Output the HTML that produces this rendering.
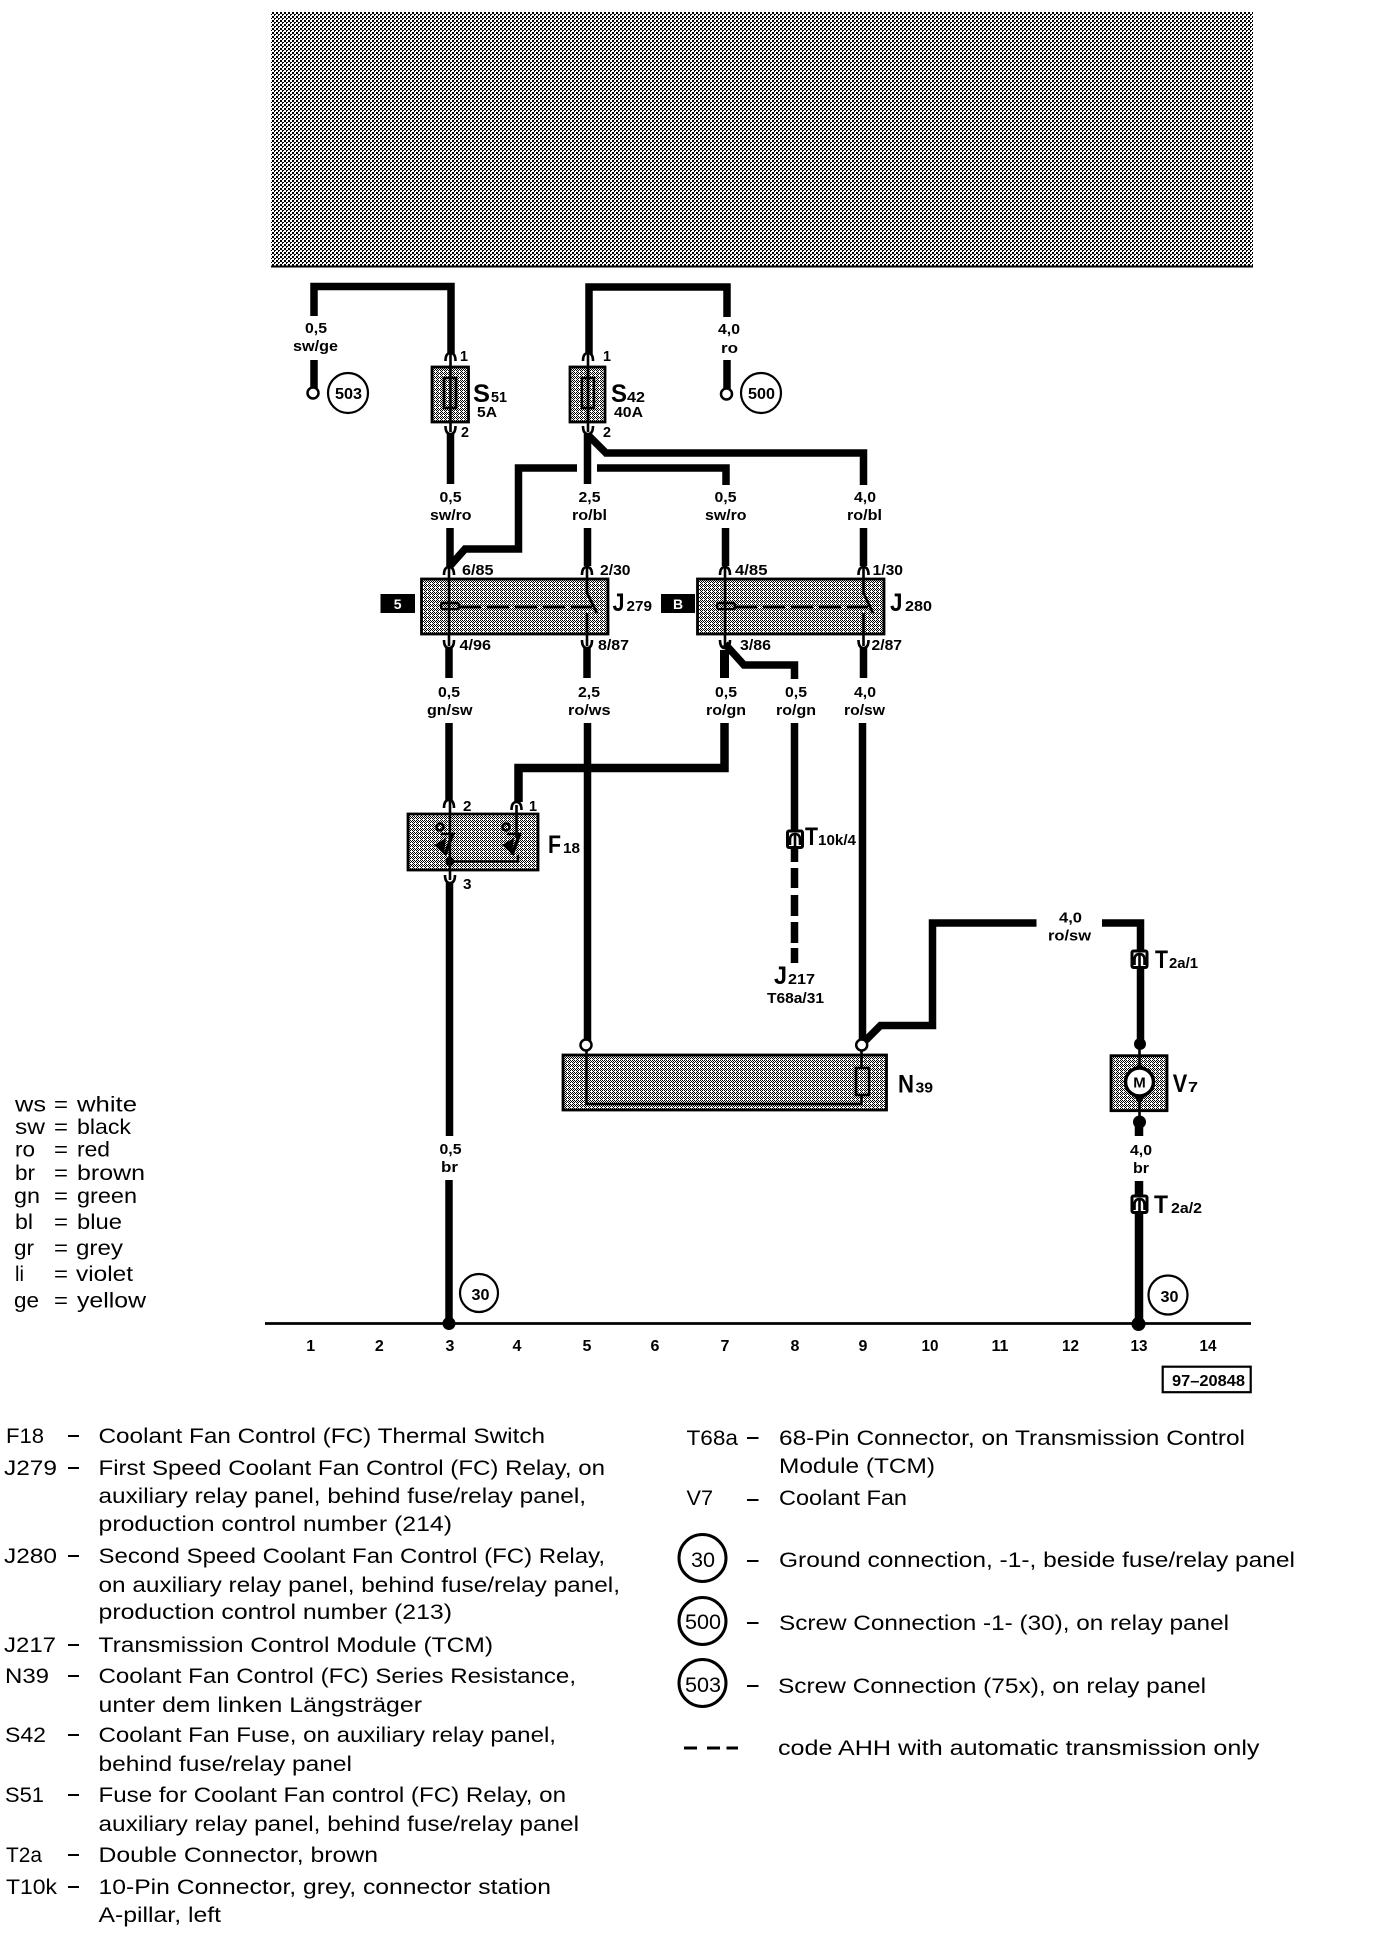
<!DOCTYPE html>
<html><head><meta charset="utf-8"><title>Coolant Fan Wiring Diagram</title>
<style>
html,body{margin:0;padding:0;background:#fff}
svg{display:block}
text{font-family:"Liberation Sans",sans-serif;fill:#000}
.b{font-weight:700;font-size:14.5px}
.p{font-weight:700;font-size:14.5px}
.c{font-weight:700;font-size:16px}
.big{font-weight:700;font-size:25px}
.sub{font-weight:700;font-size:15px}
.n{font-size:21.5px}
.w{fill:none;stroke:#000;stroke-width:7.5;stroke-linejoin:miter}
.t{fill:none;stroke:#000;stroke-width:2.6}
.box{fill:url(#ht2);stroke:#000;stroke-width:2.8}
.ring{fill:#fff;stroke:#000;stroke-width:2.2}
.hole{fill:#fff;stroke:#000;stroke-width:2.5}
</style></head><body>
<svg width="1376" height="1936" viewBox="0 0 1376 1936" xmlns="http://www.w3.org/2000/svg">
<defs>
<pattern id="ht" width="4" height="4" patternUnits="userSpaceOnUse">
<rect width="4" height="4" fill="#fff"/>
<path d="M0 0h2v2H0zM2 2h2v1H2zM2 3h1v1H2z" fill="#000" shape-rendering="crispEdges"/>
</pattern>
<pattern id="ht2" width="4" height="4" patternUnits="userSpaceOnUse">
<rect width="4" height="4" fill="#fff"/>
<path d="M0 0h1v1H0zM2 0h1v1H2zM1 1h1v1H1zM3 1h1v1H3zM0 2h1v1H0zM2 2h1v1H2zM1 3h1v1H1z" fill="#000" shape-rendering="crispEdges"/>
</pattern>
<g id="pu"><path d="M-5 5Q-5 -3 0 -3Q5 -3 5 5" class="t"/></g>
<g id="pd"><path d="M-5 -5Q-5 3 0 3Q5 3 5 -5" class="t"/></g>
<g id="con"><rect x="-7.500" y="-8" width="15" height="16.500" rx="1.500" fill="#fff" stroke="#000" stroke-width="3"/><path d="M-5 6V1Q-5 -5 0 -5Q5 -5 5 1V6" class="t"/><path d="M0 -6V8" stroke="#000" stroke-width="2.600"/></g>
</defs>
<rect width="1376" height="1936" fill="#fff"/>

<!-- top band -->
<rect x="271" y="12" width="982" height="254" fill="url(#ht)"/>
<path d="M271 266.500H1253" stroke="#000" stroke-width="2"/>

<!-- wires upper -->
<path class="w" d="M314 316V286.500H451V354"/>
<path class="w" d="M314 360V389"/>
<path class="w" d="M589 354V287H727V317"/>
<path class="w" d="M727 360V389"/>
<circle class="hole" cx="313" cy="393" r="5.500"/>
<circle class="hole" cx="726.500" cy="394" r="5.500"/>
<circle class="ring" cx="348" cy="393" r="20"/>
<circle class="ring" cx="761" cy="393" r="20"/>
<text class="c" x="335" y="399" textLength="27" lengthAdjust="spacingAndGlyphs">503</text>
<text class="c" x="748" y="399" textLength="27" lengthAdjust="spacingAndGlyphs">500</text>

<text class="b" x="305" y="333" textLength="22" lengthAdjust="spacingAndGlyphs">0,5</text>
<text class="b" x="293" y="351" textLength="45" lengthAdjust="spacingAndGlyphs">sw/ge</text>
<text class="b" x="718" y="334" textLength="22" lengthAdjust="spacingAndGlyphs">4,0</text>
<text class="b" x="721" y="353" textLength="17" lengthAdjust="spacingAndGlyphs">ro</text>

<!-- fuses -->
<rect class="box" x="432" y="367" width="36.500" height="55"/>
<rect class="t" x="444" y="378" width="12" height="30"/>
<path class="t" d="M450.500 354V432"/>
<use href="#pu" x="450.500" y="356"/>
<use href="#pd" x="450.500" y="431"/>
<text class="p" x="460" y="361" textLength="8" lengthAdjust="spacingAndGlyphs">1</text>
<text class="p" x="461" y="437" textLength="8" lengthAdjust="spacingAndGlyphs">2</text>
<text class="big" x="473" y="402" textLength="17" lengthAdjust="spacingAndGlyphs">S</text>
<text class="sub" x="491" y="402" textLength="16" lengthAdjust="spacingAndGlyphs">51</text>
<text class="b" x="477" y="417" textLength="20" lengthAdjust="spacingAndGlyphs">5A</text>

<rect class="box" x="570" y="367" width="35" height="55"/>
<rect class="t" x="582" y="378" width="12" height="30"/>
<path class="t" d="M588 354V432"/>
<use href="#pu" x="588" y="356"/>
<use href="#pd" x="588" y="431"/>
<text class="p" x="603" y="361" textLength="8" lengthAdjust="spacingAndGlyphs">1</text>
<text class="p" x="603" y="437" textLength="8" lengthAdjust="spacingAndGlyphs">2</text>
<text class="big" x="611" y="402" textLength="16" lengthAdjust="spacingAndGlyphs">S</text>
<text class="sub" x="627" y="402" textLength="18" lengthAdjust="spacingAndGlyphs">42</text>
<text class="b" x="614" y="417" textLength="29" lengthAdjust="spacingAndGlyphs">40A</text>

<!-- wires below fuses -->
<path class="w" d="M450.500 434V484"/>
<path class="w" d="M587.500 434V484"/>
<path class="w" d="M588 435L606 453H863.500V485"/>
<path class="w" d="M577 468H518.500V549H465L449 567"/>
<path class="w" d="M597 468H726V485"/>
<path class="w" d="M450 528V567"/>
<path class="w" d="M587.500 528V566"/>
<path class="w" d="M725.500 528V566"/>
<path class="w" d="M863.500 528V566"/>

<text class="b" x="439.500" y="502" textLength="22" lengthAdjust="spacingAndGlyphs">0,5</text>
<text class="b" x="430" y="520" textLength="41.500" lengthAdjust="spacingAndGlyphs">sw/ro</text>
<text class="b" x="578.500" y="502" textLength="22" lengthAdjust="spacingAndGlyphs">2,5</text>
<text class="b" x="572" y="520" textLength="35" lengthAdjust="spacingAndGlyphs">ro/bl</text>
<text class="b" x="714.500" y="502" textLength="22" lengthAdjust="spacingAndGlyphs">0,5</text>
<text class="b" x="705" y="520" textLength="41.500" lengthAdjust="spacingAndGlyphs">sw/ro</text>
<text class="b" x="854" y="502" textLength="22" lengthAdjust="spacingAndGlyphs">4,0</text>
<text class="b" x="847" y="520" textLength="35" lengthAdjust="spacingAndGlyphs">ro/bl</text>

<!-- J279 -->
<rect class="box" x="421.500" y="579" width="186.500" height="55"/>
<path class="t" d="M449 568V646M587 568V594M587 613V646"/>
<use href="#pu" x="449" y="570"/><use href="#pu" x="587" y="570"/>
<use href="#pd" x="449" y="645"/><use href="#pd" x="587" y="645"/>
<rect x="441" y="603" width="18" height="6" rx="2" fill="none" stroke="#000" stroke-width="2.500"/>
<path d="M459 607H592" stroke="#000" stroke-width="2.800" stroke-dasharray="22 6" fill="none"/>
<path class="t" d="M587 593L597 613"/>
<rect x="380.500" y="594" width="34.500" height="19"/>
<text x="397.700" y="609" text-anchor="middle" font-size="14" font-weight="700" style="fill:#fff">5</text>
<text class="p" x="462" y="575" textLength="31.500" lengthAdjust="spacingAndGlyphs">6/85</text>
<text class="p" x="600" y="575" textLength="30.500" lengthAdjust="spacingAndGlyphs">2/30</text>
<text class="p" x="459.500" y="650" textLength="31.500" lengthAdjust="spacingAndGlyphs">4/96</text>
<text class="p" x="598" y="650" textLength="31" lengthAdjust="spacingAndGlyphs">8/87</text>
<text class="big" x="612.500" y="611" textLength="12" lengthAdjust="spacingAndGlyphs">J</text>
<text class="sub" x="626.500" y="611" textLength="25.500" lengthAdjust="spacingAndGlyphs">279</text>

<!-- J280 -->
<rect class="box" x="697.500" y="579" width="186.500" height="55"/>
<path class="t" d="M725 568V646M863.500 568V594M863.500 613V646"/>
<use href="#pu" x="725" y="570"/><use href="#pu" x="863.500" y="570"/>
<use href="#pd" x="725" y="645"/><use href="#pd" x="863.500" y="645"/>
<rect x="717" y="603" width="18" height="6" rx="2" fill="none" stroke="#000" stroke-width="2.500"/>
<path d="M735 607H868" stroke="#000" stroke-width="2.800" stroke-dasharray="22 6" fill="none"/>
<path class="t" d="M863.500 593L873 613"/>
<rect x="661" y="594" width="34" height="19"/>
<text x="678" y="609" text-anchor="middle" font-size="14" font-weight="700" style="fill:#fff">B</text>
<text class="p" x="735" y="575" textLength="32.500" lengthAdjust="spacingAndGlyphs">4/85</text>
<text class="p" x="872.500" y="575" textLength="30.500" lengthAdjust="spacingAndGlyphs">1/30</text>
<text class="p" x="740" y="650" textLength="31" lengthAdjust="spacingAndGlyphs">3/86</text>
<text class="p" x="871.500" y="650" textLength="30.500" lengthAdjust="spacingAndGlyphs">2/87</text>
<text class="big" x="890" y="611" textLength="12.500" lengthAdjust="spacingAndGlyphs">J</text>
<text class="sub" x="905" y="611" textLength="27" lengthAdjust="spacingAndGlyphs">280</text>

<!-- below relays -->
<path class="w" d="M449 648V678"/>
<path class="w" d="M587 648V678"/>
<path class="w" style="stroke-width:9" d="M724.500 650V678"/>
<path class="w" d="M725 644L744 665H794.500V679"/>
<path class="w" d="M863.500 648V678"/>
<text class="b" x="438" y="697" textLength="22" lengthAdjust="spacingAndGlyphs">0,5</text>
<text class="b" x="427" y="715" textLength="45.500" lengthAdjust="spacingAndGlyphs">gn/sw</text>
<text class="b" x="578" y="697" textLength="22" lengthAdjust="spacingAndGlyphs">2,5</text>
<text class="b" x="568" y="715" textLength="42.500" lengthAdjust="spacingAndGlyphs">ro/ws</text>
<text class="b" x="715" y="697" textLength="22" lengthAdjust="spacingAndGlyphs">0,5</text>
<text class="b" x="706" y="715" textLength="40" lengthAdjust="spacingAndGlyphs">ro/gn</text>
<text class="b" x="785" y="697" textLength="22" lengthAdjust="spacingAndGlyphs">0,5</text>
<text class="b" x="776" y="715" textLength="40" lengthAdjust="spacingAndGlyphs">ro/gn</text>
<text class="b" x="854" y="697" textLength="22" lengthAdjust="spacingAndGlyphs">4,0</text>
<text class="b" x="844" y="715" textLength="41" lengthAdjust="spacingAndGlyphs">ro/sw</text>

<path class="w" d="M449 723V801"/>
<path class="w" style="stroke-width:8.500" d="M724.500 723V768H518.500V802"/>
<path class="w" d="M587.500 723V1041"/>
<path class="w" d="M794.500 723V862"/>
<path class="w" d="M862.500 723V1041"/>
<path class="w" d="M865 1041L880.500 1025.500H932.500V923H1036.500"/>
<path class="w" d="M1102 923H1140.500V1044"/>

<!-- F18 -->
<rect class="box" x="408" y="814" width="130" height="56"/>
<path class="t" d="M450 800V880M516.500 805V838M450 861.500H518V855"/>
<use href="#pu" x="449" y="803"/><use href="#pu" x="516.500" y="805"/>
<path d="M453 833L445 855M520 833L512 855" stroke="#000" stroke-width="3.500" fill="none"/>
<path d="M446 838L434 845L444 854ZM514 838L502 845L512 854Z" fill="#000"/>
<path d="M441 834H455M507 834H521" stroke="#000" stroke-width="2.500"/>
<circle class="t" cx="440" cy="827" r="3.500"/><circle class="t" cx="506" cy="827" r="3.500"/>
<circle cx="450" cy="861.500" r="4.500" fill="#000"/>
<text class="p" x="463" y="811" textLength="8.500" lengthAdjust="spacingAndGlyphs">2</text>
<text class="p" x="529" y="811" textLength="8" lengthAdjust="spacingAndGlyphs">1</text>
<text class="p" x="463" y="889" textLength="8.500" lengthAdjust="spacingAndGlyphs">3</text>
<text class="big" x="548" y="853" textLength="13" lengthAdjust="spacingAndGlyphs">F</text>
<text class="sub" x="563" y="853" textLength="17" lengthAdjust="spacingAndGlyphs">18</text>
<use href="#pd" x="450" y="880"/>
<path class="w" d="M449.500 883V1136"/>
<text class="b" x="439.500" y="1154" textLength="22" lengthAdjust="spacingAndGlyphs">0,5</text>
<text class="b" x="441" y="1172" textLength="17" lengthAdjust="spacingAndGlyphs">br</text>
<path class="w" d="M449 1180V1323"/>
<circle cx="449" cy="1323.500" r="6.500" fill="#000"/>

<!-- T10k, J217 -->
<use href="#con" x="795" y="839"/>
<text class="big" x="805" y="845" textLength="13" lengthAdjust="spacingAndGlyphs">T</text>
<text class="sub" x="818" y="845" textLength="38" lengthAdjust="spacingAndGlyphs">10k/4</text>
<path d="M794.500 868V888M794.500 895V916M794.500 922V943M794.500 948V963" stroke="#000" stroke-width="7.500"/>
<text class="big" x="774" y="984" textLength="13" lengthAdjust="spacingAndGlyphs">J</text>
<text class="sub" x="788" y="984" textLength="27" lengthAdjust="spacingAndGlyphs">217</text>
<text class="b" x="767" y="1003" textLength="57" lengthAdjust="spacingAndGlyphs">T68a/31</text>

<!-- N39 -->
<rect class="box" x="563" y="1055" width="323.500" height="55"/>
<path class="t" d="M586.500 1050V1104H861.500V1095M861.500 1068V1050"/>
<rect x="856" y="1068" width="13" height="27" fill="none" stroke="#000" stroke-width="2.500"/>
<circle class="hole" cx="586" cy="1045" r="5.500"/>
<circle class="hole" cx="861.700" cy="1045" r="5.500"/>
<text class="big" x="898" y="1092.500" textLength="16" lengthAdjust="spacingAndGlyphs">N</text>
<text class="sub" x="915.500" y="1092.500" textLength="17.500" lengthAdjust="spacingAndGlyphs">39</text>

<!-- right branch -->
<text class="b" x="1059" y="922.700" textLength="23" lengthAdjust="spacingAndGlyphs">4,0</text>
<text class="b" x="1048" y="940.700" textLength="43" lengthAdjust="spacingAndGlyphs">ro/sw</text>
<use href="#con" x="1139.500" y="959"/>
<text class="big" x="1155" y="968" textLength="13" lengthAdjust="spacingAndGlyphs">T</text>
<text class="sub" x="1169" y="968" textLength="29" lengthAdjust="spacingAndGlyphs">2a/1</text>

<!-- V7 -->
<rect class="box" x="1111" y="1055.700" width="56" height="55"/>
<path d="M1139.500 1044V1122" stroke="#000" stroke-width="2.600"/>
<circle cx="1140" cy="1044" r="6" fill="#000"/>
<path d="M1139.500 1062L1147 1072H1132ZM1139.500 1104L1147 1094H1132Z" fill="#000"/>
<circle cx="1139.500" cy="1082" r="14" fill="#fff" stroke="#000" stroke-width="3.500"/>
<text x="1139.500" y="1087.500" text-anchor="middle" font-size="15" font-weight="700">M</text>
<text class="big" x="1172.700" y="1092" textLength="14.500" lengthAdjust="spacingAndGlyphs">V</text>
<text class="sub" x="1188" y="1092" textLength="10" lengthAdjust="spacingAndGlyphs">7</text>
<circle cx="1139.500" cy="1122" r="6.500" fill="#000"/>
<path class="w" style="stroke-width:8.500" d="M1139 1124V1136"/>
<text class="b" x="1130" y="1155" textLength="22" lengthAdjust="spacingAndGlyphs">4,0</text>
<text class="b" x="1133" y="1173" textLength="16" lengthAdjust="spacingAndGlyphs">br</text>
<path class="w" style="stroke-width:8.500" d="M1139 1181V1323"/>
<use href="#con" x="1139.500" y="1204"/>
<text class="big" x="1154" y="1213" textLength="14" lengthAdjust="spacingAndGlyphs">T</text>
<text class="sub" x="1171" y="1213" textLength="31" lengthAdjust="spacingAndGlyphs">2a/2</text>

<!-- ground bus -->
<path d="M265 1323.500H1251" stroke="#000" stroke-width="2.800"/>
<circle cx="1138.500" cy="1324" r="7" fill="#000"/>
<circle class="ring" cx="479" cy="1293" r="19"/>
<circle class="ring" cx="1168" cy="1295" r="19.500"/>
<text class="c" x="471.500" y="1300" textLength="18" lengthAdjust="spacingAndGlyphs">30</text>
<text class="c" x="1160.500" y="1302" textLength="18" lengthAdjust="spacingAndGlyphs">30</text>
<text class="c" x="310.700" y="1351" text-anchor="middle">1</text>
<text class="c" x="379.300" y="1351" text-anchor="middle">2</text>
<text class="c" x="450" y="1351" text-anchor="middle">3</text>
<text class="c" x="517" y="1351" text-anchor="middle">4</text>
<text class="c" x="587" y="1351" text-anchor="middle">5</text>
<text class="c" x="655" y="1351" text-anchor="middle">6</text>
<text class="c" x="725" y="1351" text-anchor="middle">7</text>
<text class="c" x="795" y="1351" text-anchor="middle">8</text>
<text class="c" x="863" y="1351" text-anchor="middle">9</text>
<text class="c" x="921.500" y="1351" textLength="17" lengthAdjust="spacingAndGlyphs">10</text>
<text class="c" x="991.500" y="1351" textLength="17" lengthAdjust="spacingAndGlyphs">11</text>
<text class="c" x="1062" y="1351" textLength="17" lengthAdjust="spacingAndGlyphs">12</text>
<text class="c" x="1130.500" y="1351" textLength="17" lengthAdjust="spacingAndGlyphs">13</text>
<text class="c" x="1199.500" y="1351" textLength="17" lengthAdjust="spacingAndGlyphs">14</text>
<rect x="1162.700" y="1366.700" width="88" height="25.500" fill="#fff" stroke="#000" stroke-width="2.200"/>
<text class="c" x="1172" y="1386" textLength="73" lengthAdjust="spacingAndGlyphs">97–20848</text>

<!-- colour key -->
<text class="n" x="15" y="1111.500" textLength="31" lengthAdjust="spacingAndGlyphs">ws</text><text class="n" x="54" y="1111.500" textLength="14" lengthAdjust="spacingAndGlyphs">=</text><text class="n" x="77" y="1111.500" textLength="60" lengthAdjust="spacingAndGlyphs">white</text>
<text class="n" x="15" y="1134" textLength="30" lengthAdjust="spacingAndGlyphs">sw</text><text class="n" x="54" y="1134" textLength="14" lengthAdjust="spacingAndGlyphs">=</text><text class="n" x="77" y="1134" textLength="54" lengthAdjust="spacingAndGlyphs">black</text>
<text class="n" x="15" y="1156.500" textLength="20" lengthAdjust="spacingAndGlyphs">ro</text><text class="n" x="54" y="1156.500" textLength="14" lengthAdjust="spacingAndGlyphs">=</text><text class="n" x="77" y="1156.500" textLength="33" lengthAdjust="spacingAndGlyphs">red</text>
<text class="n" x="15" y="1180" textLength="20" lengthAdjust="spacingAndGlyphs">br</text><text class="n" x="54" y="1180" textLength="14" lengthAdjust="spacingAndGlyphs">=</text><text class="n" x="77" y="1180" textLength="68" lengthAdjust="spacingAndGlyphs">brown</text>
<text class="n" x="14" y="1203" textLength="26" lengthAdjust="spacingAndGlyphs">gn</text><text class="n" x="54" y="1203" textLength="14" lengthAdjust="spacingAndGlyphs">=</text><text class="n" x="77" y="1203" textLength="60" lengthAdjust="spacingAndGlyphs">green</text>
<text class="n" x="15" y="1229" textLength="18" lengthAdjust="spacingAndGlyphs">bl</text><text class="n" x="54" y="1229" textLength="14" lengthAdjust="spacingAndGlyphs">=</text><text class="n" x="77" y="1229" textLength="45" lengthAdjust="spacingAndGlyphs">blue</text>
<text class="n" x="14" y="1255" textLength="20" lengthAdjust="spacingAndGlyphs">gr</text><text class="n" x="54" y="1255" textLength="14" lengthAdjust="spacingAndGlyphs">=</text><text class="n" x="76" y="1255" textLength="47" lengthAdjust="spacingAndGlyphs">grey</text>
<text class="n" x="15" y="1281" textLength="9" lengthAdjust="spacingAndGlyphs">li</text><text class="n" x="54" y="1281" textLength="14" lengthAdjust="spacingAndGlyphs">=</text><text class="n" x="76" y="1281" textLength="57" lengthAdjust="spacingAndGlyphs">violet</text>
<text class="n" x="14" y="1307.500" textLength="25" lengthAdjust="spacingAndGlyphs">ge</text><text class="n" x="54" y="1307.500" textLength="14" lengthAdjust="spacingAndGlyphs">=</text><text class="n" x="77" y="1307.500" textLength="69" lengthAdjust="spacingAndGlyphs">yellow</text>

<!-- left legend -->
<g stroke="#000" stroke-width="2">
<path d="M68 1436H79M68 1468H79M68 1556H79M68 1645H79M68 1676H79M68 1735H79M68 1795H79M68 1855H79M68 1887H79"/>
</g>
<text class="n" x="6" y="1443" textLength="38" lengthAdjust="spacingAndGlyphs">F18</text>
<text class="n" x="98.500" y="1443" textLength="446.500" lengthAdjust="spacingAndGlyphs">Coolant Fan Control (FC) Thermal Switch</text>
<text class="n" x="4" y="1475" textLength="53" lengthAdjust="spacingAndGlyphs">J279</text>
<text class="n" x="98.500" y="1475" textLength="506.500" lengthAdjust="spacingAndGlyphs">First Speed Coolant Fan Control (FC) Relay, on</text>
<text class="n" x="98.500" y="1503" textLength="487.500" lengthAdjust="spacingAndGlyphs">auxiliary relay panel, behind fuse/relay panel,</text>
<text class="n" x="98.500" y="1531" textLength="353.500" lengthAdjust="spacingAndGlyphs">production control number (214)</text>
<text class="n" x="4" y="1563" textLength="53" lengthAdjust="spacingAndGlyphs">J280</text>
<text class="n" x="98.500" y="1563" textLength="506.500" lengthAdjust="spacingAndGlyphs">Second Speed Coolant Fan Control (FC) Relay,</text>
<text class="n" x="98.500" y="1592" textLength="521.500" lengthAdjust="spacingAndGlyphs">on auxiliary relay panel, behind fuse/relay panel,</text>
<text class="n" x="98.500" y="1619" textLength="353.500" lengthAdjust="spacingAndGlyphs">production control number (213)</text>
<text class="n" x="4" y="1652" textLength="52" lengthAdjust="spacingAndGlyphs">J217</text>
<text class="n" x="98.500" y="1652" textLength="394.500" lengthAdjust="spacingAndGlyphs">Transmission Control Module (TCM)</text>
<text class="n" x="5" y="1683" textLength="44" lengthAdjust="spacingAndGlyphs">N39</text>
<text class="n" x="98.500" y="1683" textLength="477.500" lengthAdjust="spacingAndGlyphs">Coolant Fan Control (FC) Series Resistance,</text>
<text class="n" x="98.500" y="1712" textLength="323.500" lengthAdjust="spacingAndGlyphs">unter dem linken Längsträger</text>
<text class="n" x="5" y="1742" textLength="41" lengthAdjust="spacingAndGlyphs">S42</text>
<text class="n" x="98.500" y="1742" textLength="457.500" lengthAdjust="spacingAndGlyphs">Coolant Fan Fuse, on auxiliary relay panel,</text>
<text class="n" x="98.500" y="1771" textLength="253.500" lengthAdjust="spacingAndGlyphs">behind fuse/relay panel</text>
<text class="n" x="5" y="1802" textLength="39" lengthAdjust="spacingAndGlyphs">S51</text>
<text class="n" x="98.500" y="1802" textLength="467.500" lengthAdjust="spacingAndGlyphs">Fuse for Coolant Fan control (FC) Relay, on</text>
<text class="n" x="98.500" y="1831" textLength="480.500" lengthAdjust="spacingAndGlyphs">auxiliary relay panel, behind fuse/relay panel</text>
<text class="n" x="6" y="1862" textLength="36" lengthAdjust="spacingAndGlyphs">T2a</text>
<text class="n" x="98.500" y="1862" textLength="279.500" lengthAdjust="spacingAndGlyphs">Double Connector, brown</text>
<text class="n" x="6" y="1894" textLength="51" lengthAdjust="spacingAndGlyphs">T10k</text>
<text class="n" x="98.500" y="1894" textLength="452.500" lengthAdjust="spacingAndGlyphs">10-Pin Connector, grey, connector station</text>
<text class="n" x="98.500" y="1922" textLength="122.500" lengthAdjust="spacingAndGlyphs">A-pillar, left</text>

<!-- right legend -->
<g stroke="#000" stroke-width="2">
<path d="M747 1438H758.500M747 1500H758.500M747 1561H758.500M747 1623H758.500M747 1686H758.500"/>
</g>
<text class="n" x="686.500" y="1445" textLength="51.500" lengthAdjust="spacingAndGlyphs">T68a</text>
<text class="n" x="779" y="1445" textLength="466" lengthAdjust="spacingAndGlyphs">68-Pin Connector, on Transmission Control</text>
<text class="n" x="779" y="1473" textLength="156" lengthAdjust="spacingAndGlyphs">Module (TCM)</text>
<text class="n" x="686.500" y="1505" textLength="26.500" lengthAdjust="spacingAndGlyphs">V7</text>
<text class="n" x="779" y="1505" textLength="128" lengthAdjust="spacingAndGlyphs">Coolant Fan</text>
<circle class="ring" style="stroke-width:3" cx="702.500" cy="1558" r="23.500"/>
<circle class="ring" style="stroke-width:3" cx="702.500" cy="1621" r="23.500"/>
<circle class="ring" style="stroke-width:3" cx="702.500" cy="1683" r="23.500"/>
<text class="n" x="691" y="1567" textLength="24" lengthAdjust="spacingAndGlyphs">30</text>
<text class="n" x="685" y="1629" textLength="36" lengthAdjust="spacingAndGlyphs">500</text>
<text class="n" x="685" y="1692" textLength="36" lengthAdjust="spacingAndGlyphs">503</text>
<text class="n" x="779" y="1567" textLength="516" lengthAdjust="spacingAndGlyphs">Ground connection, -1-, beside fuse/relay panel</text>
<text class="n" x="779" y="1630" textLength="450" lengthAdjust="spacingAndGlyphs">Screw Connection -1- (30), on relay panel</text>
<text class="n" x="778" y="1693" textLength="428" lengthAdjust="spacingAndGlyphs">Screw Connection (75x), on relay panel</text>
<path d="M684 1748H697M707 1748H720M726.500 1748H738" stroke="#000" stroke-width="3"/>
<text class="n" x="778" y="1755" textLength="481.500" lengthAdjust="spacingAndGlyphs">code AHH with automatic transmission only</text>
</svg>
</body></html>
